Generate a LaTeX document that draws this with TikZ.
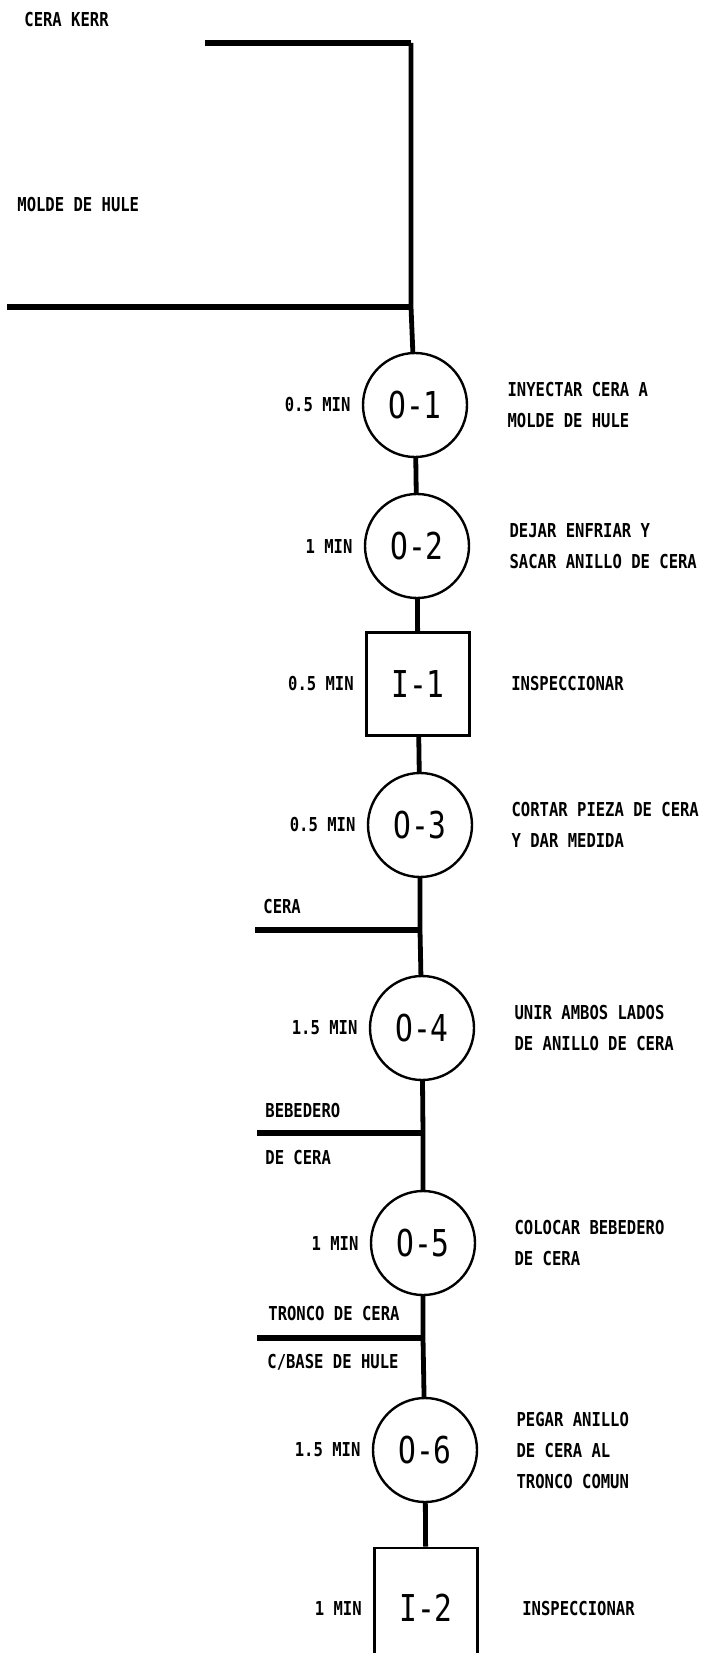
\documentclass[tikz,border=0pt]{standalone}
\usepackage{fontspec}
\newfontfamily\matrixfont{DejaVu Sans Mono}[FakeStretch=0.81]
\newfontfamily\chartfont{DejaVu Sans Mono}[FakeStretch=0.8]
\usetikzlibrary{positioning}

\tikzset{
  operacion/.style={circle, draw, line width=1.2pt, minimum size=52pt, inner sep=0pt,
    font=\chartfont\fontsize{18.5}{20}\selectfont},
  inspeccion/.style={rectangle, draw, line width=1.4pt, minimum width=51.5pt, minimum height=51.5pt,
    inner sep=0pt, font=\chartfont\fontsize{18.5}{20}\selectfont},
  texto/.style={inner sep=0pt, font=\matrixfont\bfseries\fontsize{9.6}{15.5}\selectfont},
  tiempo/.style={texto, anchor=east},
  descripcion/.style={texto, anchor=west, align=left},
  material/.style={texto, anchor=west, align=left},
  flujo/.style={line width=2.4pt},
  insumo/.style={line width=3.2pt}
}

\begin{document}
\begin{tikzpicture}[x=0.5pt, y=-0.5pt]
  \path[use as bounding box, fill=white] (0,0) rectangle (701,1653);

  % materiales de entrada
  \node[material] (kerr) at (24,20) {CERA KERR};
  \node[material] (molde) at (17,205) {MOLDE DE HULE};
  \coordinate (kerrA) at (205,43);
  \coordinate (kerrB) at (411,43);
  \coordinate (moldeA) at (7,307);
  \coordinate (moldeB) at (411,307);

  % operaciones e inspecciones
  \node[operacion] (o1) at (415,405) {O-1};
  \node[operacion] (o2) at (417,546) {O-2};
  \node[inspeccion] (i1) at (418,684) {I-1};
  \node[operacion] (o3) at (420,825) {O-3};
  \node[operacion] (o4) at (422,1028) {O-4};
  \node[operacion] (o5) at (423,1243) {O-5};
  \node[operacion] (o6) at (425,1450) {O-6};
  \node[inspeccion, minimum height=60pt] (i2) at (426,1608) {I-2};

  % tiempos
  \node[tiempo, left=5.5pt of o1] (t1) {0.5 MIN};
  \node[tiempo, left=5.5pt of o2] (t2) {1 MIN};
  \node[tiempo, left=5.5pt of i1] (t3) {0.5 MIN};
  \node[tiempo, left=5.5pt of o3] (t4) {0.5 MIN};
  \node[tiempo, left=5.5pt of o4] (t5) {1.5 MIN};
  \node[tiempo, left=5.5pt of o5] (t6) {1 MIN};
  \node[tiempo, left=5.5pt of o6] (t7) {1.5 MIN};
  \node[tiempo, left=5.5pt of i2] (t8) {1 MIN};

  % descripciones
  \node[descripcion, right=19.5pt of o1] (d1) {INYECTAR CERA A\\MOLDE DE HULE};
  \node[descripcion, right=19.5pt of o2] (d2) {DEJAR ENFRIAR Y\\SACAR ANILLO DE CERA};
  \node[descripcion, right=20pt of i1] (d3) {INSPECCIONAR};
  \node[descripcion, right=19pt of o3] (d4) {CORTAR PIEZA DE CERA\\Y DAR MEDIDA};
  \node[descripcion, right=19.5pt of o4] (d5) {UNIR AMBOS LADOS\\DE ANILLO DE CERA};
  \node[descripcion, right=19pt of o5] (d6) {COLOCAR BEBEDERO\\DE CERA};
  \node[descripcion, right=19pt of o6] (d7) {PEGAR ANILLO\\DE CERA AL\\TRONCO COMUN};
  \node[descripcion, right=21.5pt of i2] (d8) {INSPECCIONAR};

  % entradas laterales
  \node[material] (cera) at (263,907) {CERA};
  \coordinate (ceraA) at (255,930);
  \coordinate (ceraB) at (420,930);
  \node[material] (beb1) at (265,1110) {BEBEDERO};
  \node[material] (beb2) at (265,1157) {DE CERA};
  \coordinate (bebA) at (257,1133);
  \coordinate (bebB) at (423,1133);
  \node[material] (tron1) at (268,1313) {TRONCO DE CERA};
  \node[material] (tron2) at (267,1362) {C/BASE DE HULE};
  \coordinate (tronA) at (257,1338);
  \coordinate (tronB) at (423,1338);

  \draw[insumo] (kerrA) -- (kerrB);
  \draw[insumo] (moldeA) -- (moldeB);
  \draw[insumo] (ceraA) -- (ceraB);
  \draw[insumo] (bebA) -- (bebB);
  \draw[insumo] (tronA) -- (tronB);

  % linea de flujo
  \draw[flujo] (kerrB) -- (moldeB) -- (o1);
  \foreach \a/\b in {o1/o2, o2/i1, i1/o3, o6/i2}
    \draw[flujo] (\a) -- (\b);
  \draw[flujo] (o3) -- (ceraB) -- (o4);
  \draw[flujo] (o4) -- (bebB) -- (o5);
  \draw[flujo] (o5) -- (tronB) -- (o6);
\end{tikzpicture}
\end{document}
